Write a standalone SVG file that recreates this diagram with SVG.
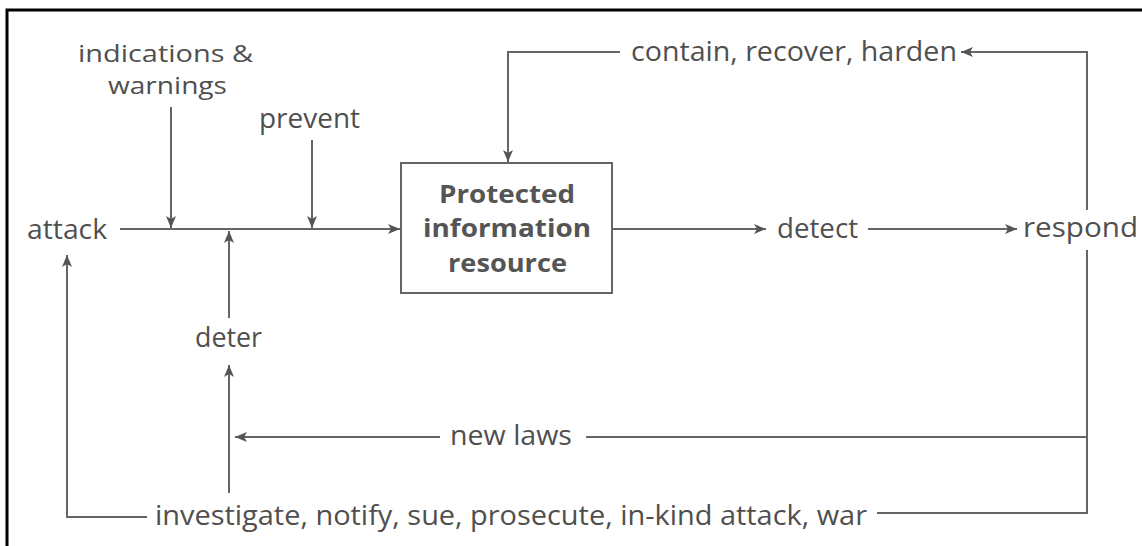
<svg xmlns="http://www.w3.org/2000/svg" width="1142" height="546" viewBox="0 0 1142 546">
<style>
text{font-family:"Open Sans","DejaVu Sans",sans-serif;font-size:28px;fill:#4f4f4f}
.b{font-weight:bold;fill:#555;font-size:25px}
.s{font-size:24px}
.c{fill:none;stroke:#666;stroke-width:2}
</style>
<defs>
<marker id="ah" viewBox="0 0 12 10" refX="12" refY="5" markerWidth="12" markerHeight="10" markerUnits="userSpaceOnUse" orient="auto">
<path d="M0,0 L12,5 L0,10 L3,5 z" fill="#555"/>
</marker>
</defs>
<rect width="1142" height="546" fill="#fff"/>
<path d="M7,546 V10 H1142" fill="none" stroke="#000" stroke-width="3"/>
<g id="connectors">
<path class="c" d="M120,229 H400" marker-end="url(#ah)"/>
<path class="c" d="M171,107 V228" marker-end="url(#ah)"/>
<path class="c" d="M312,140 V228" marker-end="url(#ah)"/>
<path class="c" d="M229,318 V231" marker-end="url(#ah)"/>
<path class="c" d="M620,52 H508 V162" marker-end="url(#ah)"/>
<path class="c" d="M612,229 H766" marker-end="url(#ah)"/>
<path class="c" d="M868,229 H1017" marker-end="url(#ah)"/>
<path class="c" d="M1087,210 V52 H961" marker-end="url(#ah)"/>
<path class="c" d="M1087,250 V513 H877"/>
<path class="c" d="M1087,437 H586"/>
<path class="c" d="M440,437 H235" marker-end="url(#ah)"/>
<path class="c" d="M229,493 V365" marker-end="url(#ah)"/>
<path class="c" d="M147,517 H67 V255" marker-end="url(#ah)"/>
</g>
<g id="resource">
<rect x="401" y="163" width="211" height="130" fill="#fff" stroke="#666" stroke-width="2"/>
<text class="b" x="439" y="203" textLength="136" lengthAdjust="spacingAndGlyphs">Protected</text>
<text class="b" x="423" y="237" textLength="168" lengthAdjust="spacingAndGlyphs">information</text>
<text class="b" x="448" y="272" textLength="119" lengthAdjust="spacingAndGlyphs">resource</text>
</g>
<g id="indications"><text class="s" x="78" y="62" textLength="175" lengthAdjust="spacingAndGlyphs">indications &amp;</text><text class="s" x="108" y="94" textLength="119" lengthAdjust="spacingAndGlyphs">warnings</text></g>
<g id="prevent"><text x="259" y="128" textLength="101" lengthAdjust="spacingAndGlyphs">prevent</text></g>
<g id="attack"><text x="27" y="239" textLength="80" lengthAdjust="spacingAndGlyphs">attack</text></g>
<g id="contain"><text x="631" y="61" textLength="326" lengthAdjust="spacingAndGlyphs">contain, recover, harden</text></g>
<g id="detect"><text x="777" y="238" textLength="81" lengthAdjust="spacingAndGlyphs">detect</text></g>
<g id="respond"><text x="1023" y="237" textLength="115" lengthAdjust="spacingAndGlyphs">respond</text></g>
<g id="deter"><text x="195" y="347" textLength="67" lengthAdjust="spacingAndGlyphs">deter</text></g>
<g id="newlaws"><text x="450" y="445" textLength="122" lengthAdjust="spacingAndGlyphs">new laws</text></g>
<g id="investigate"><text x="155" y="525" textLength="712" lengthAdjust="spacingAndGlyphs">investigate, notify, sue, prosecute, in-kind attack, war</text></g>
</svg>
